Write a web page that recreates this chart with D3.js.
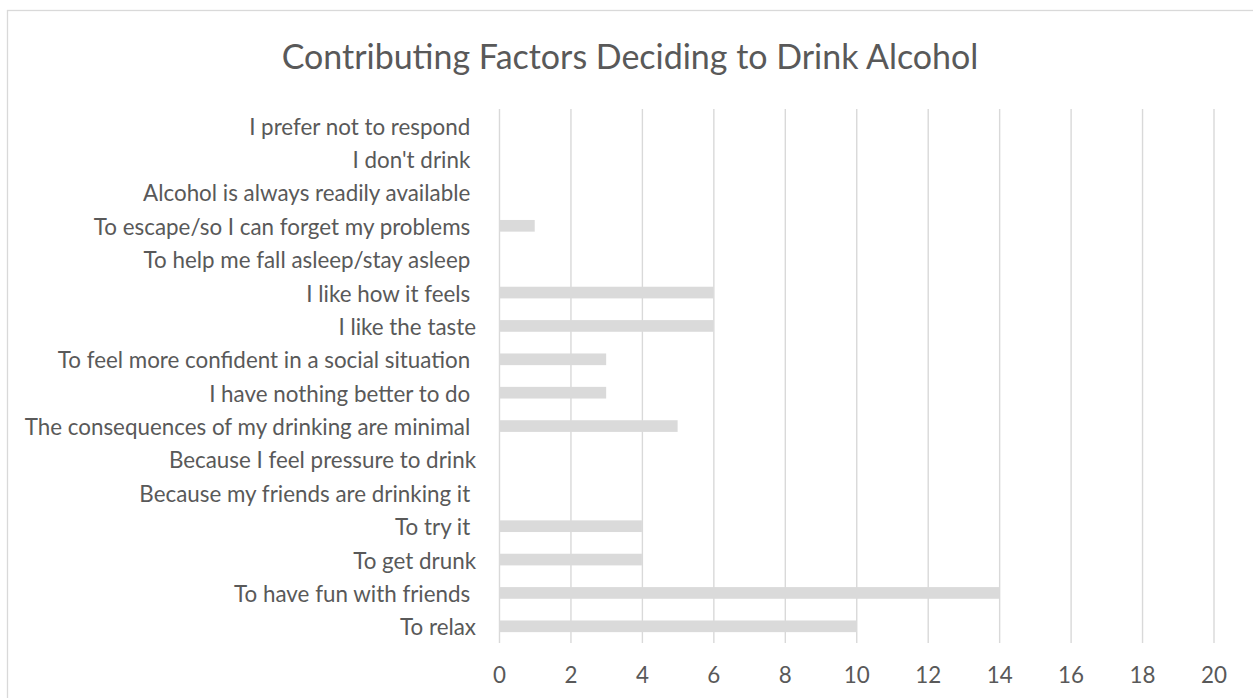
<!DOCTYPE html>
<html>
<head>
<meta charset="utf-8">
<script src="https://cdn.jsdelivr.net/npm/d3@7"></script>
<style>
  html, body { margin: 0; padding: 0; background: #ffffff; }
  svg { display: block; }
  text { font-family: Lato, "Open Sans", sans-serif; fill: #595959; }
</style>
</head>
<body>
<svg id="chart" width="1253" height="698"></svg>
<script>
// ---- Data (top to bottom as displayed) ----
const title = "Contributing Factors Deciding to Drink Alcohol";
const categories = [
  "I prefer not to respond ",
  "I don't drink ",
  "Alcohol is always readily available ",
  "To escape/so I can forget my problems ",
  "To help me fall asleep/stay asleep ",
  "I like how it feels ",
  "I like the taste",
  "To feel more confident in a social situation ",
  "I have nothing better to do ",
  "The consequences of my drinking are minimal ",
  "Because I feel pressure to drink",
  "Because my friends are drinking it ",
  "To try it ",
  "To get drunk",
  "To have fun with friends ",
  "To relax"
];
const values = [0, 0, 0, 1, 0, 6, 6, 3, 3, 5, 0, 0, 4, 4, 14, 10];
const xTicks = [0, 2, 4, 6, 8, 10, 12, 14, 16, 18, 20];
const xMax = 20;

// ---- Layout ----
const svg = d3.select("#chart");
const plot = { left: 499, right: 1213.5, top: 109, bottom: 643 };
const grey = "#d9d9d9";

// chart border (extends beyond the visible window on right/bottom)
svg.append("rect")
  .attr("x", 7.5).attr("y", 10.5)
  .attr("width", 1300).attr("height", 720)
  .attr("fill", "#ffffff")
  .attr("stroke", grey).attr("stroke-width", 1.3);

const x = d3.scaleLinear().domain([0, xMax]).range([plot.left, plot.right]);
const y = d3.scaleBand().domain(categories)
  .range([plot.top, plot.bottom])
  .paddingInner(0.65).paddingOuter(0.325);

// helper: fit a font size so a text reaches a target width
function fitSize(str, target, base) {
  const t = svg.append("text").attr("font-size", base).text(str);
  const w = t.node().getComputedTextLength();
  t.remove();
  return base * target / w;
}
const labelSize = fitSize("The consequences of my drinking are minimal", 446, 20);
const titleSize = fitSize(title, 697, 30);

// ---- Gridlines + x axis ----
const xAxis = d3.axisBottom(x)
  .tickValues(xTicks)
  .tickFormat(d3.format("d"))
  .tickSizeInner(-(plot.bottom - plot.top))
  .tickSizeOuter(0);

const gx = svg.append("g")
  .attr("transform", `translate(0,${plot.bottom})`)
  .call(xAxis);
gx.select(".domain").remove();
gx.selectAll(".tick line").attr("stroke", grey).attr("stroke-width", 1.4);
gx.selectAll(".tick text")
  .attr("y", 32)
  .attr("dy", "0.35em")
  .attr("font-size", labelSize)
  .style("font-family", "Lato, 'Open Sans', sans-serif")
  .attr("fill", "#595959");

// ---- Bars ----
svg.append("g").selectAll("rect")
  .data(categories.map((c, i) => ({ c, v: values[i] })))
  .join("rect")
  .attr("x", x(0))
  .attr("y", d => y(d.c))
  .attr("width", d => x(d.v) - x(0))
  .attr("height", y.bandwidth())
  .attr("fill", "#dadada");

// ---- Category labels (y axis) ----
const yAxis = d3.axisLeft(y).tickSize(0).tickPadding(23);
const gy = svg.append("g")
  .attr("transform", `translate(${plot.left},0)`)
  .call(yAxis);
gy.select(".domain").remove();
gy.selectAll(".tick text")
  .attr("font-size", labelSize)
  .attr("dy", "0.4em")
  .style("white-space", "pre")
  .style("font-family", "Lato, 'Open Sans', sans-serif")
  .attr("fill", "#595959");

// ---- Title ----
svg.append("text")
  .attr("x", 630)
  .attr("y", 57)
  .attr("dy", "0.35em")
  .attr("text-anchor", "middle")
  .attr("font-size", titleSize)
  .text(title);
</script>
</body>
</html>
